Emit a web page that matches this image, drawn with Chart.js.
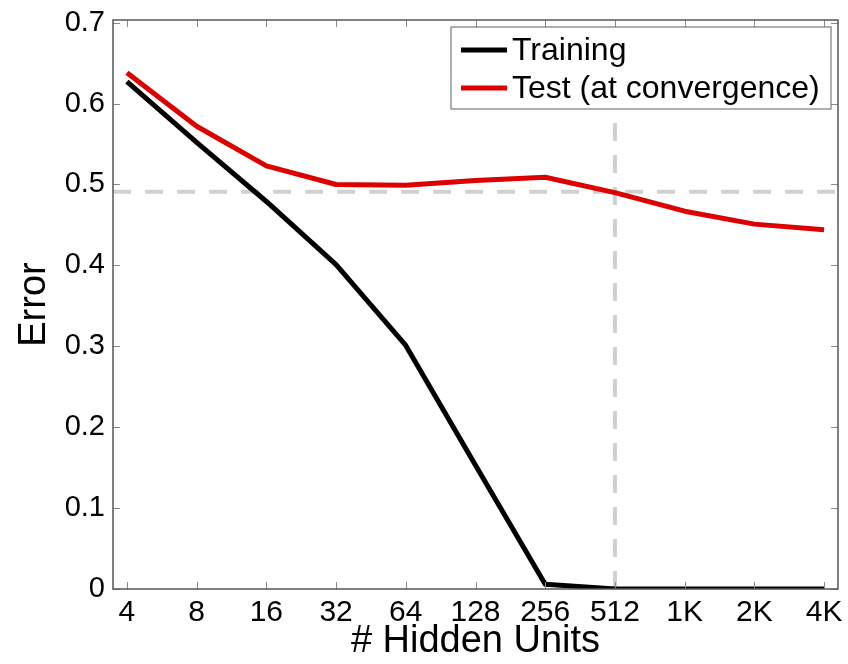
<!DOCTYPE html>
<html>
<head>
<meta charset="utf-8">
<script src="https://cdn.jsdelivr.net/npm/chart.js@4"></script>
<style>
  html, body { margin: 0; padding: 0; background: #ffffff; }
  #wrap { width: 848px; height: 664px; }
</style>
</head>
<body>
<div id="wrap"><canvas id="c" width="848" height="664"></canvas></div>
<script>
// ---- data ----
const hiddenUnits   = ['4', '8', '16', '32', '64', '128', '256', '512', '1K', '2K', '4K'];
const trainingError = [0.627, 0.552, 0.479, 0.401, 0.301, 0.153, 0.006, 0.000, 0.000, 0.000, 0.000];
const testError     = [0.638, 0.572, 0.523, 0.500, 0.499, 0.505, 0.509, 0.490, 0.467, 0.451, 0.444];
const yTickValues   = [0, 0.1, 0.2, 0.3, 0.4, 0.5, 0.6, 0.7];
const refErrorLevel = 0.491;   // horizontal dashed reference
const refUnitsIndex = 7;       // vertical dashed reference at 512 units
const seriesNames   = ['Training', 'Test (at convergence)'];

const X_MIN = -0.2, X_MAX = hiddenUnits.length - 1 + 0.2;
const Y_MIN = 0, Y_MAX = 0.7033;

const FONT = '"Liberation Sans", Arial, Helvetica, sans-serif';
const RED = '#dd0000';
const GRAY = 'rgba(200,200,200,0.85)';

const toPoints = arr => arr.map((v, i) => ({ x: i, y: v }));

// Axis box + inward MATLAB style tick marks
const boxPlugin = {
  id: 'matlabBox',
  afterDraw(chart) {
    const { ctx, chartArea: a, scales } = chart;
    ctx.save();
    ctx.strokeStyle = '#8a8a8a';
    ctx.lineWidth = 1;
    const L = 7;
    hiddenUnits.forEach((_, i) => {
      const x = Math.round(scales.x.getPixelForValue(i)) + 0.5;
      ctx.beginPath();
      ctx.moveTo(x, a.bottom); ctx.lineTo(x, a.bottom - L);
      ctx.moveTo(x, a.top); ctx.lineTo(x, a.top + L);
      ctx.stroke();
    });
    yTickValues.forEach(v => {
      const y = Math.round(scales.y.getPixelForValue(v)) + 0.5;
      ctx.beginPath();
      ctx.moveTo(a.left, y); ctx.lineTo(a.left + L, y);
      ctx.moveTo(a.right, y); ctx.lineTo(a.right - L, y);
      ctx.stroke();
    });
    ctx.strokeStyle = '#555555';
    ctx.lineWidth = 1.5;
    ctx.strokeRect(a.left, a.top, a.right - a.left, a.bottom - a.top);
    ctx.restore();
  }
};

// Legend box inside the axes (north-east)
const legendPlugin = {
  id: 'insideLegend',
  afterDraw(chart) {
    const { ctx, chartArea: a } = chart;
    const w = 380, h = 82;
    const x0 = a.right - 7 - w, y0 = a.top + 7;
    ctx.save();
    ctx.fillStyle = '#ffffff';
    ctx.fillRect(x0, y0, w, h);
    ctx.strokeStyle = '#7a7a7a';
    ctx.lineWidth = 1.2;
    ctx.strokeRect(x0, y0, w, h);
    const colors = ['#000000', RED];
    const rowY = [y0 + 23, y0 + 61];
    ctx.font = '32px ' + FONT;
    ctx.textBaseline = 'middle';
    ctx.textAlign = 'left';
    seriesNames.forEach((name, k) => {
      ctx.strokeStyle = colors[k];
      ctx.lineWidth = 5;
      ctx.beginPath();
      ctx.moveTo(x0 + 10, rowY[k]);
      ctx.lineTo(x0 + 56, rowY[k]);
      ctx.stroke();
      ctx.fillStyle = '#000000';
      ctx.fillText(name, x0 + 61, rowY[k] + 1);
    });
    ctx.restore();
  }
};

new Chart(document.getElementById('c'), {
  type: 'line',
  data: {
    datasets: [
      {
        label: seriesNames[0],
        data: toPoints(trainingError),
        borderColor: '#000000', borderWidth: 5,
        pointRadius: 0, tension: 0, order: 0,
        borderJoinStyle: 'round', borderCapStyle: 'butt'
      },
      {
        label: seriesNames[1],
        data: toPoints(testError),
        borderColor: RED, borderWidth: 5,
        pointRadius: 0, tension: 0, order: 1,
        borderJoinStyle: 'round', borderCapStyle: 'butt'
      },
      {
        label: 'ref-h',
        data: [{ x: X_MIN, y: refErrorLevel }, { x: X_MAX, y: refErrorLevel }],
        borderColor: GRAY, borderWidth: 4, borderDash: [18, 14],
        pointRadius: 0, order: 5
      },
      {
        label: 'ref-v',
        data: [{ x: refUnitsIndex, y: Y_MIN }, { x: refUnitsIndex, y: Y_MAX }],
        borderColor: GRAY, borderWidth: 4, borderDash: [18, 14],
        pointRadius: 0, order: 5
      }
    ]
  },
  options: {
    responsive: false,
    animation: false,
    events: [],
    layout: { padding: { top: 20, right: 10, left: 0, bottom: 0 } },
    plugins: { legend: { display: false }, tooltip: { enabled: false } },
    scales: {
      x: {
        type: 'linear',
        min: X_MIN, max: X_MAX,
        grid: { display: false, drawTicks: false },
        border: { display: false },
        afterBuildTicks: s => { s.ticks = hiddenUnits.map((_, i) => ({ value: i })); },
        afterFit: s => { s.height = 75; s.paddingLeft = 0; s.paddingRight = 0; },
        ticks: {
          autoSkip: false, maxRotation: 0,
          padding: 6,
          color: '#000000',
          font: { family: FONT, size: 30 },
          callback: v => hiddenUnits[v]
        },
        title: {
          display: true, text: '# Hidden Units', color: '#000000',
          font: { family: FONT, size: 38, lineHeight: 1.2 },
          padding: { top: 0, bottom: 0 }
        }
      },
      y: {
        type: 'linear',
        min: Y_MIN, max: Y_MAX,
        grid: { display: false, drawTicks: false },
        border: { display: false },
        afterBuildTicks: s => { s.ticks = yTickValues.map(v => ({ value: v })); },
        afterFit: s => { s.width = 113; s.paddingTop = 0; s.paddingBottom = 0; },
        ticks: {
          padding: 8,
          color: '#000000',
          font: { family: FONT, size: 29 },
          callback: v => String(Math.round(v * 10) / 10)
        },
        title: {
          display: true, text: 'Error', color: '#000000',
          font: { family: FONT, size: 38, lineHeight: 1.2 },
          padding: { top: 12, bottom: 0 }
        }
      }
    }
  },
  plugins: [boxPlugin, legendPlugin]
});
</script>
</body>
</html>
